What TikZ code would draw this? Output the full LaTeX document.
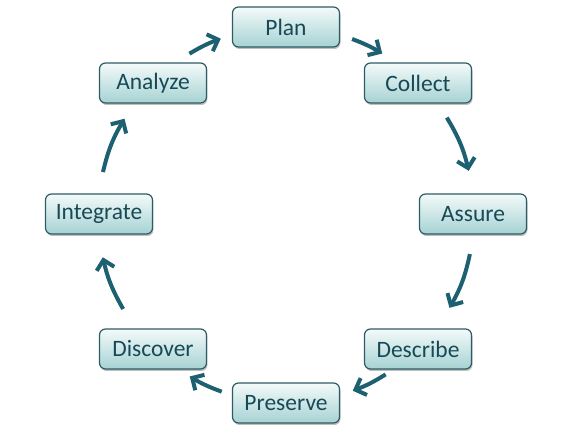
\documentclass[tikz,border=0pt]{standalone}
\usepackage{fontspec}
\setmainfont{Carlito}
\usetikzlibrary{arrows.meta,shadows}
\definecolor{boxborder}{HTML}{2E5C66}
\definecolor{boxtext}{HTML}{174A56}
\definecolor{boxtop}{HTML}{F4FAFA}
\definecolor{boxbot}{HTML}{A6D2D3}
\definecolor{arr}{HTML}{1D6072}
\begin{document}
\begin{tikzpicture}[x=1pt,y=1pt,
  stagebox/.style={draw=boxborder, line width=1.2pt, rounded corners=6pt,
    minimum width=107pt, minimum height=40pt, inner sep=0pt,
    top color=boxtop, bottom color=boxbot, text=boxtext,
    font=\fontsize{23.5}{27}\selectfont,
    drop shadow={shadow xshift=1pt, shadow yshift=-2pt, opacity=0.25, fill=black}},
  cyc/.style={draw=arr, line width=4pt, -{Straight Barb[length=9pt,width=18pt]}}]
\useasboundingbox (-286,-220) rectangle (287,215);
\def\R{188}
\node[stagebox] (plan) at (0,188) {Plan};
\node[stagebox] (collect) at (132,132) {Collect};
\node[stagebox] (assure) at (187,1) {Assure};
\node[stagebox] (describe) at (132,-134) {Describe};
\node[stagebox] (preserve) at (0,-188) {Preserve};
\node[stagebox] (discover) at (-133,-134) {Discover};
\node[stagebox] (integrate) at (-187,1) {Integrate};
\node[stagebox] (analyze) at (-133,132) {Analyze};
% arrow end points on the cycle circle
\coordinate (pc1) at (69.4:\R);  \coordinate (pc2) at (59.2:\R);
\coordinate (ca1) at (31.2:\R);  \coordinate (ca2) at (13.6:\R);
\coordinate (ad1) at (-12:\R);   \coordinate (ad2) at (-29.6:\R);
\coordinate (dp1) at (-58:\R);   \coordinate (dp2) at (-69.2:\R);
\coordinate (pd1) at (-110:\R);  \coordinate (pd2) at (-120.8:\R);
\coordinate (di1) at (-150:\R);  \coordinate (di2) at (-167:\R);
\coordinate (ia1) at (166.8:\R); \coordinate (ia2) at (149.2:\R);
\coordinate (ap1) at (120.9:\R); \coordinate (ap2) at (110.3:\R);
\draw[cyc] (pc1) to[bend left=5.1] (pc2);
\draw[cyc] (ca1) to[bend left=8.8] (ca2);
\draw[cyc] (ad1) to[bend left=8.8] (ad2);
\draw[cyc] (dp1) to[bend left=5.6] (dp2);
\draw[cyc] (pd1) to[bend left=5.4] (pd2);
\draw[cyc] (di1) to[bend left=8.5] (di2);
\draw[cyc] (ia1) to[bend left=8.8] (ia2);
\draw[cyc] (ap1) to[bend left=5.3] (ap2);
\end{tikzpicture}
\end{document}
